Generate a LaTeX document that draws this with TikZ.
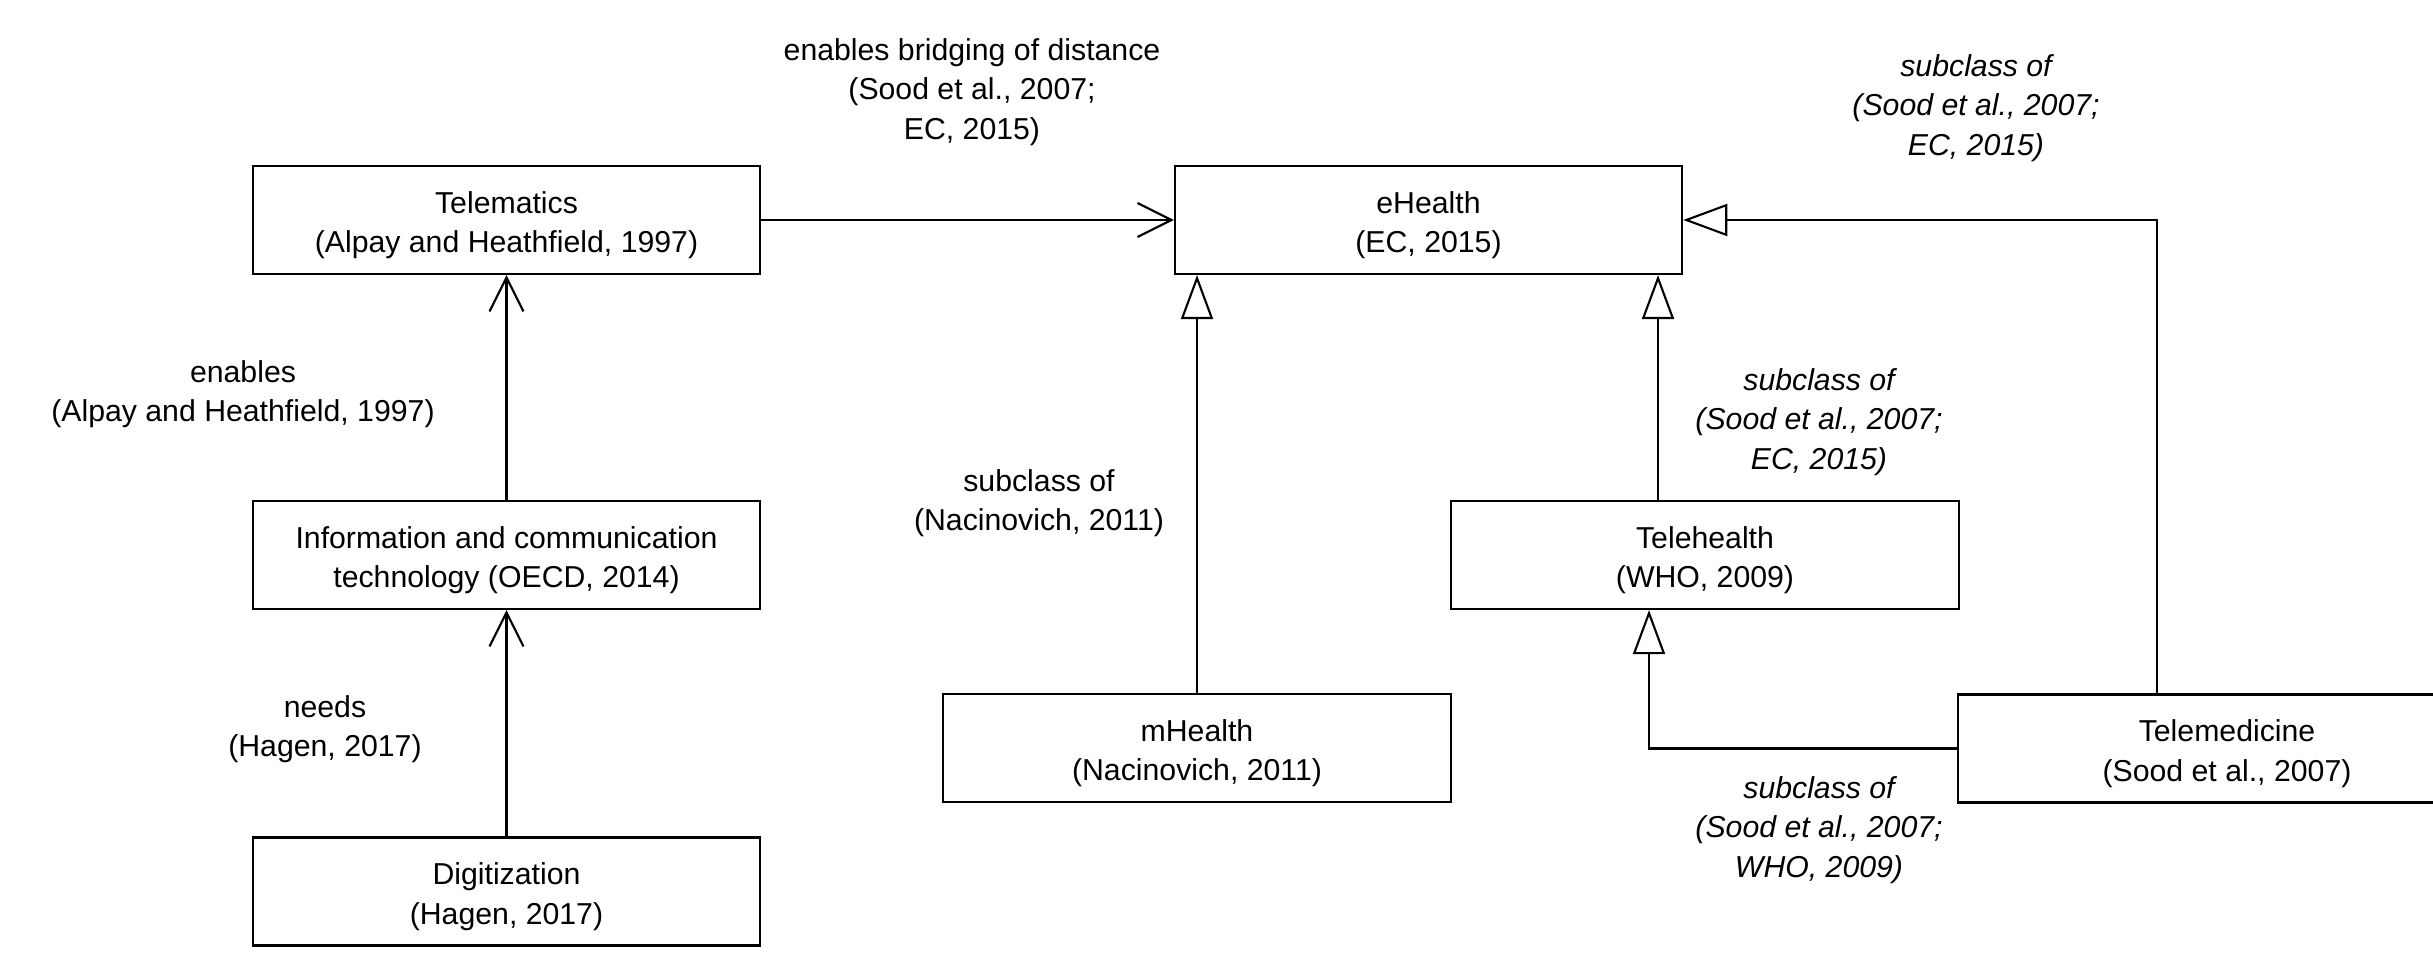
\documentclass[tikz,border=0pt]{standalone}
\usepackage{fontspec}
\setmainfont{Liberation Sans}
\usetikzlibrary{arrows.meta}

\begin{document}
\begin{tikzpicture}[x=0.01cm, y=-0.01cm, line width=0.6pt,
    font=\fontsize{8.6}{11.2}\selectfont,
    box/.style={draw, minimum width=5.07cm, minimum height=1.08cm, inner sep=0pt, align=center,
        text height=20.4pt, text depth=1.8pt},
    lbl/.style={inner sep=0pt, align=center},
    sublbl/.style={lbl, font=\fontsize{8.6}{11.2}\selectfont\itshape},
    assoc/.style={-{Straight Barb[length=0.34cm, width=0.34cm]}},
    sub/.style={-{Triangle[open, length=0.44cm, width=0.32cm]}}]
    \useasboundingbox (0,0) rectangle (2433,955);
    % Concepts
    \node[box] (telematics) at (506.5,220) {Telematics\\(Alpay and Heathfield, 1997)};
    \node[box] (ict) at (506.5,555) {Information and communication\\technology (OECD, 2014)};
    \node[box] (digit) at (506.5,891.5) {Digitization\\(Hagen, 2017)};
    \node[box] (ehealth) at (1428.5,220) {eHealth\\(EC, 2015)};
    \node[box] (mhealth) at (1197,748) {mHealth\\(Nacinovich, 2011)};
    \node[box] (telehealth) at (1705,555) {Telehealth\\(WHO, 2009)};
    \node[box, minimum width=5.38cm] (telemed) at (2227,748.5) {Telemedicine\\(Sood et al., 2007)};
    % Points de passage
    \coordinate (thx) at (1658,0);
    \coordinate (tmx) at (1649,0);
    \coordinate (trx) at (2157,0);
    % Relations
    \draw[assoc] (telematics.east) -- (ehealth.west);
    \draw[assoc] (ict.north) -- (telematics.south);
    \draw[assoc] (digit.north) -- (ict.south);
    \draw[sub] (mhealth.north) -- (mhealth.north |- ehealth.south);
    \draw[sub] (thx |- telehealth.north) -- (thx |- ehealth.south);
    \draw[sub] (telemed.west) -| (tmx |- telehealth.south);
    \draw[sub] (trx |- telemed.north) |- (ehealth.east);
    % Etiquettes
    \node[lbl] (bridging) at (972,92) {enables bridging of distance\\(Sood et al., 2007;\\EC, 2015)};
    \node[sublbl] (subtm) at (1976,108) {subclass of\\(Sood et al., 2007;\\EC, 2015)};
    \node[lbl] (enables) at (243,394) {enables\\(Alpay and Heathfield, 1997)};
    \node[lbl] (submh) at (1039,503) {subclass of\\(Nacinovich, 2011)};
    \node[sublbl] (subth) at (1819,422) {subclass of\\(Sood et al., 2007;\\EC, 2015)};
    \node[lbl] (needs) at (325,729) {needs\\(Hagen, 2017)};
    \node[sublbl] (subtmth) at (1819,830) {subclass of\\(Sood et al., 2007;\\WHO, 2009)};
\end{tikzpicture}
\end{document}
